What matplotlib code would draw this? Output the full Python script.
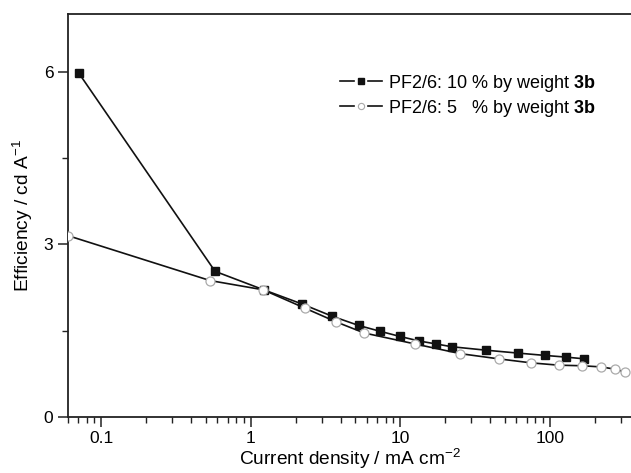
import matplotlib
matplotlib.use("Agg")
import matplotlib.pyplot as plt
import matplotlib.ticker as mticker
from matplotlib.lines import Line2D
from matplotlib.legend_handler import HandlerBase

plt.rcParams['font.family'] = ['Liberation Sans', 'DejaVu Sans']
plt.rcParams['mathtext.fontset'] = 'custom'
plt.rcParams['mathtext.rm'] = 'Liberation Sans'
plt.rcParams['mathtext.bf'] = 'Liberation Sans:bold'
plt.rcParams['mathtext.it'] = 'Liberation Sans:italic'

# Series: 10 % by weight 3b (filled squares)
x10 = [0.071, 0.578, 1.22, 2.22, 3.51, 5.28, 7.31, 9.94, 13.4, 17.3, 22.2, 37.7, 61.4, 92.7, 129, 171]
y10 = [5.97, 2.53, 2.21, 1.96, 1.75, 1.59, 1.49, 1.40, 1.32, 1.27, 1.22, 1.16, 1.11, 1.07, 1.04, 1.01]

# Series: 5 % by weight 3b (open circles)
x5 = [0.06, 0.535, 1.21, 2.31, 3.75, 5.74, 12.5, 25.3, 45.6, 75.4, 115, 165, 221, 275, 320]
y5 = [3.15, 2.37, 2.21, 1.89, 1.65, 1.46, 1.27, 1.10, 1.01, 0.94, 0.90, 0.89, 0.87, 0.83, 0.78]

label10 = r'PF2/6: 10 % by weight $\mathbf{3b}$'
label5 = r'PF2/6: 5   % by weight $\mathbf{3b}$'


class BrokenLineHandler(HandlerBase):
    """Origin-style legend symbol: line, gap, marker, gap, line."""
    def __init__(self, marker_kw, gap_frac=0.17, **kw):
        super().__init__(**kw)
        self.marker_kw = marker_kw
        self.gap_frac = gap_frac

    def create_artists(self, legend, orig_handle, xdescent, ydescent,
                       width, height, fontsize, trans):
        y = height / 2 - ydescent
        x0 = -xdescent
        x1 = x0 + width
        xc = (x0 + x1) / 2
        g = width * self.gap_frac
        la = Line2D([x0, xc - g], [y, y], color=orig_handle.get_color(),
                    lw=orig_handle.get_linewidth(), transform=trans)
        lb = Line2D([xc + g, x1], [y, y], color=orig_handle.get_color(),
                    lw=orig_handle.get_linewidth(), transform=trans)
        mk = Line2D([xc], [y], ls='none', transform=trans, **self.marker_kw)
        return [la, lb, mk]


fig = plt.figure(figsize=(6.31, 4.73), dpi=100)
ax = fig.add_axes([68/631, 1-417/473, 1-68/631, (417-14)/473])

h10, = ax.plot(x10, y10, color='#111111', lw=1.2, marker='s', ms=5.5,
               mfc='#111111', mec='#111111', zorder=3)
h5, = ax.plot(x5, y5, color='#111111', lw=1.2, marker='o', ms=6.5,
              mfc='white', mec='#aaaaaa', mew=0.9, zorder=4)

ax.set_xscale('log')
ax.set_xlim(0.06, 350)
ax.set_ylim(0, 7)

ax.xaxis.set_major_locator(mticker.FixedLocator([0.1, 1, 10, 100]))
ax.xaxis.set_major_formatter(mticker.FixedFormatter(['0.1', '1', '10', '100']))
ax.xaxis.set_minor_locator(mticker.LogLocator(base=10, subs=range(2, 10), numticks=20))
ax.xaxis.set_minor_formatter(mticker.NullFormatter())
ax.yaxis.set_major_locator(mticker.FixedLocator([0, 3, 6]))
ax.yaxis.set_minor_locator(mticker.FixedLocator([1.5, 4.5]))

ax.tick_params(which='major', direction='out', length=7, width=1.1, labelsize=12.5, color='#222222')
ax.tick_params(which='minor', direction='out', length=4.5, width=1.0, color='#222222')
ax.tick_params(axis='x', which='major', pad=3)

for s in ['left', 'top', 'bottom']:
    ax.spines[s].set_linewidth(1.3)
    ax.spines[s].set_color('#222222')
ax.spines['right'].set_visible(False)

ax.set_xlabel(r'Current density / mA cm$^{-2}$', fontsize=13.8, labelpad=1)
ax.set_ylabel(r'Efficiency / cd A$^{-1}$', fontsize=13.8, labelpad=6)

hm10 = BrokenLineHandler(dict(marker='s', ms=4, mfc='#111111', mec='#111111'))
hm5 = BrokenLineHandler(dict(marker='o', ms=4.5, mfc='white', mec='#aaaaaa', mew=0.8))

leg = ax.legend([h10, h5], [label10, label5],
                handler_map={h10: hm10, h5: hm5},
                loc='upper left', bbox_to_anchor=(0.455, 0.895), frameon=False,
                fontsize=13.0, handlelength=2.32, handletextpad=0.3,
                labelspacing=0.22)

fig.savefig('out.png', dpi=100)
